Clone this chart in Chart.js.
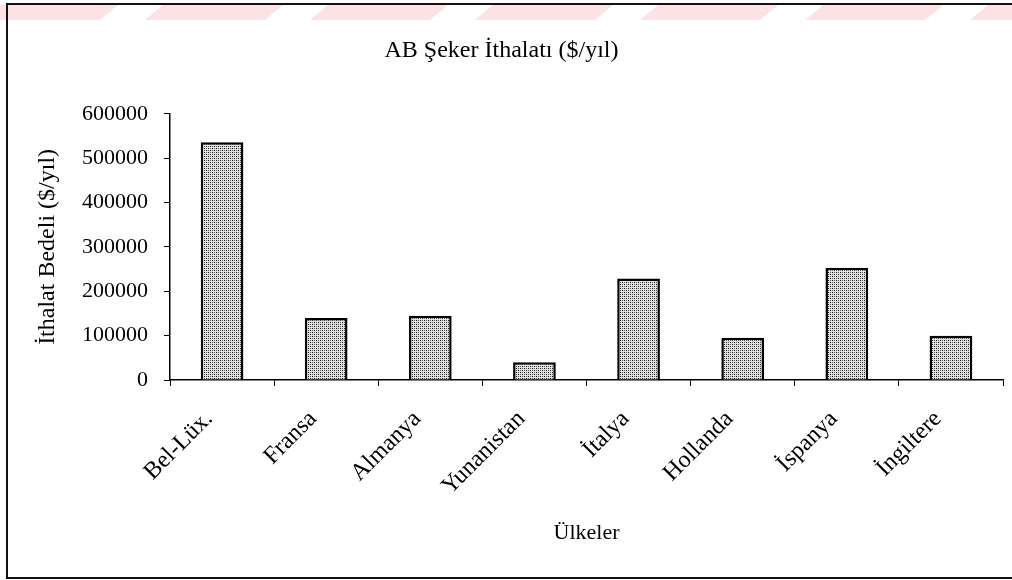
<!DOCTYPE html>
<html>
<head>
<meta charset="utf-8">
<script src="https://cdn.jsdelivr.net/npm/chart.js@4/dist/chart.umd.min.js"></script>
<style>
  html, body { margin: 0; padding: 0; background: #fff; }
  #wrap { width: 1012px; height: 580px; }
</style>
</head>
<body>
<div id="wrap"><canvas id="c" width="1012" height="580"></canvas></div>
<script>
// veriler
const countries = ['Bel-Lüx.', 'Fransa', 'Almanya', 'Yunanistan', 'İtalya', 'Hollanda', 'İspanya', 'İngiltere'];
const imports = [536000, 140000, 145000, 40000, 229000, 95000, 253000, 100000];
const yTicks = [0, 100000, 200000, 300000, 400000, 500000, 600000];

const serif = "'Liberation Serif', 'Times New Roman', serif";

// noktalı dolgu deseni
const makePattern = () => {
    const p = document.createElement('canvas');
    p.width = 4; p.height = 4;
    const g = p.getContext('2d');
    g.fillStyle = '#e2e2e2';
    g.fillRect(0, 0, 4, 4);
    g.fillStyle = '#111';
    g.fillRect(0, 0, 1, 1);
    g.fillRect(2, 2, 1, 1);
    g.fillStyle = '#5a5a5a';
    g.fillRect(2, 0, 1, 1);
    g.fillRect(0, 2, 1, 1);
    return g.createPattern(p, 'repeat');
};

// çerçeve ve üstteki pembe şeritler
const framePlugin = {
    id: 'frame',
    beforeDraw(chart) {
        const ctx = chart.ctx;
        const w = chart.width;
        ctx.save();
        ctx.fillStyle = '#fff';
        ctx.fillRect(0, 0, w, chart.height);
        ctx.fillStyle = '#fde2e5';
        for (let x = -20; x < w; x += 165) {
            ctx.beginPath();
            ctx.moveTo(x, 20);
            ctx.lineTo(x + 18, 5);
            ctx.lineTo(x + 138, 5);
            ctx.lineTo(x + 120, 20);
            ctx.closePath();
            ctx.fill();
        }
        ctx.strokeStyle = '#111';
        ctx.lineWidth = 2;
        ctx.beginPath();
        ctx.moveTo(w, 4);
        ctx.lineTo(7, 4);
        ctx.lineTo(7, 578);
        ctx.lineTo(w, 578);
        ctx.stroke();
        ctx.restore();
    }
};

new Chart(document.getElementById('c'), {
    type: 'bar',
    data: {
        labels: countries,
        datasets: [{
            data: imports,
            backgroundColor: makePattern(),
            borderColor: '#000',
            borderWidth: 2.5,
            barPercentage: 0.41,
            categoryPercentage: 1
        }]
    },
    options: {
        responsive: false,
        animation: false,
        devicePixelRatio: 1,
        layout: { padding: { left: 0, right: 9, top: 0, bottom: 0 } },
        plugins: {
            legend: { display: false },
            tooltip: { enabled: false },
            title: {
                display: true,
                text: 'AB Şeker İthalatı ($/yıl)',
                color: '#000',
                font: { family: serif, size: 24, weight: 'normal' },
                padding: { top: 36, bottom: 49 }
            }
        },
        scales: {
            x: {
                grid: { display: true, drawOnChartArea: false, offset: true, color: '#000', tickLength: 6 },
                border: { color: '#000', width: 1.5 },
                ticks: {
                    color: '#000',
                    font: { family: serif, size: 24 },
                    minRotation: 45,
                    maxRotation: 45,
                    labelOffset: -13,
                    padding: 19,
                    autoSkip: false
                },
                title: {
                    display: true,
                    text: 'Ülkeler',
                    color: '#000',
                    font: { family: serif, size: 22 },
                    padding: { top: 0, bottom: 34 }
                },
                afterFit(s) { s.height = 200; }
            },
            y: {
                min: yTicks[0],
                max: yTicks[yTicks.length - 1],
                ticks: {
                    stepSize: yTicks[1] - yTicks[0],
                    color: '#000',
                    font: { family: serif, size: 22 },
                    padding: 16,
                    callback: v => String(v)
                },
                grid: { drawOnChartArea: false, color: '#000', tickLength: 6 },
                border: { color: '#000', width: 1.5 },
                title: {
                    display: true,
                    text: 'İthalat Bedeli ($/yıl)',
                    color: '#000',
                    font: { family: serif, size: 24 },
                    padding: { top: 33, bottom: 0 }
                },
                afterFit(s) { s.width = 170; }
            }
        }
    },
    plugins: [framePlugin]
});
</script>
</body>
</html>
